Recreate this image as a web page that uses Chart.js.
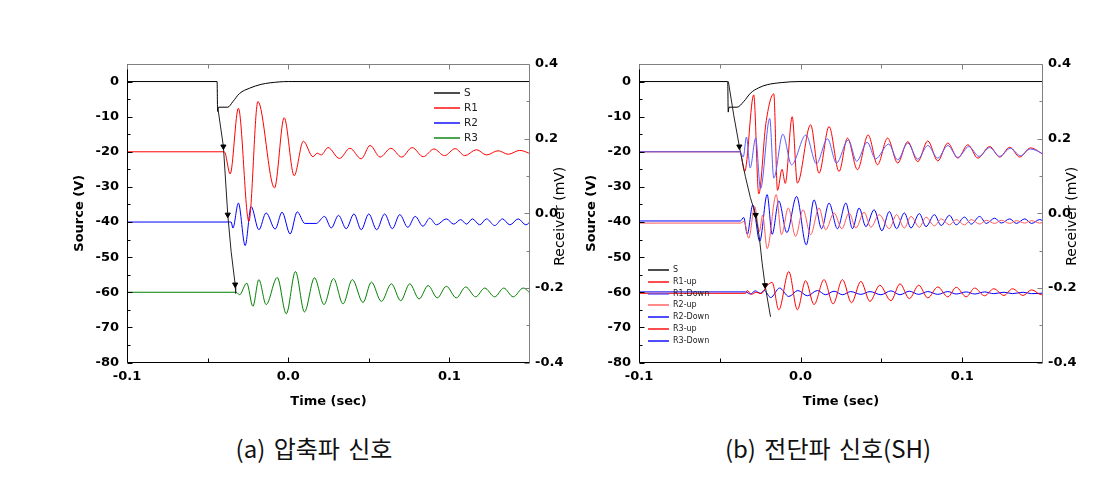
<!DOCTYPE html>
<html>
<head>
<meta charset="utf-8">
<script src="https://cdn.jsdelivr.net/npm/chart.js@4/dist/chart.umd.min.js"></script>
<style>
  body { margin: 0; background: #fff; }
  #wrap { position: relative; width: 1112px; height: 480px; overflow: hidden; }
  canvas { position: absolute; top: 0; }
  #chartA { left: 0; }
  #chartB { left: 512px; }
  .cap { position: absolute; top: 434px; font-family: 'Noto Sans CJK KR', sans-serif; font-weight: 400; font-size: 24px;
         line-height: 28px; color: #111; white-space: nowrap; word-spacing: 3px; transform: translateX(-50%); }
</style>
</head>
<body>
<div id="wrap">
  <canvas id="chartA" width="600" height="420"></canvas>
  <canvas id="chartB" width="600" height="420"></canvas>
  <div class="cap" style="left:314px">(a) 압축파 신호</div>
  <div class="cap" style="left:828px">(b) 전단파 신호(SH)</div>
</div>
<script>
// ticks
const timeTicks = [-0.1, 0, 0.1];
const timeMinor = [-0.05, 0.05];
const sourceTicks = [-80, -70, -60, -50, -40, -30, -20, -10, 0];
const sourceMinor = [-75, -65, -55, -45, -35, -25, -15, -5];
const receiverTicks = [-0.4, -0.2, 0, 0.2, 0.4];
const receiverMinor = [-0.3, -0.1, 0.1, 0.3];

// (a) P-wave: [time (sec), source/offset (V)]
const sA = [[-0.1, 0], [-0.0441, 0], [-0.0438, -8.5], [-0.0433, -7.3], [-0.0375, -7.3], [-0.0343, -5.7], [-0.0302, -3.4],
  [-0.0240, -1.9], [-0.0168, -0.8], [-0.0056, -0.1], [0.0, 0], [0.15, 0]];
const arrivalA = [[-0.0437, -7.3], [-0.0402, -18.5], [-0.0375, -37.9], [-0.0354, -48.4], [-0.0329, -57.8], [-0.0326, -60.3]];
const r1A = [[-0.1, -20], [-0.0396, -20], [-0.0360, -26.3], [-0.0309, -7.6], [-0.0244, -39.8], [-0.0188, -5.7], [-0.0085, -30.3],
  [-0.0025, -10.3], [0.0037, -26.8], [0.0094, -17.0], [0.0153, -21.4], [0.0180, -20.4], [0.0205, -20.9], [0.0247, -18.8],
  [0.0318, -21.9], [0.0383, -19.0], [0.0453, -22.0], [0.0508, -18.2], [0.0570, -21.5], [0.0637, -19.0], [0.0704, -21.5],
  [0.0769, -18.8], [0.0838, -21.4], [0.0904, -19.2], [0.0970, -21.1], [0.1036, -19.1], [0.1095, -21.1], [0.1168, -19.4],
  [0.1230, -20.9], [0.1302, -19.7], [0.1365, -20.7], [0.1437, -19.6], [0.151, -20.7]];
const r2A = [[-0.1, -40], [-0.0354, -40], [-0.0343, -41.7], [-0.0309, -34.6], [-0.0267, -46.7], [-0.0230, -35.6], [-0.0182, -42.2],
  [-0.0137, -37.4], [-0.0081, -42.0], [-0.0038, -37.2], [0.0012, -43.4], [0.0056, -37.1], [0.0103, -40.4], [0.0174, -40.4],
  [0.0225, -38.4], [0.0267, -41.7], [0.0312, -38.1], [0.0360, -41.9], [0.0408, -37.7], [0.0453, -42.2], [0.0500, -37.7],
  [0.0549, -42.2], [0.0598, -37.7], [0.0646, -41.9], [0.0692, -37.9], [0.0742, -41.5], [0.0788, -38.4], [0.0836, -41.2],
  [0.0878, -38.9], [0.0919, -40.8], [0.0981, -39.1], [0.1027, -40.6], [0.1070, -39.3], [0.1106, -40.6], [0.1143, -39.1],
  [0.1188, -40.8], [0.1230, -39.1], [0.1281, -41.0], [0.1329, -39.1], [0.1375, -40.8], [0.1427, -39.1], [0.1474, -40.8], [0.151, -39.5]];
const r3A = [[-0.1, -60], [-0.0323, -60], [-0.0302, -60.7], [-0.0257, -57.4], [-0.0219, -64.0], [-0.0182, -56.4], [-0.0137, -63.5],
  [-0.0068, -55.8], [-0.0012, -66.1], [0.0045, -54.1], [0.0101, -65.6], [0.0163, -55.9], [0.0222, -63.5], [0.0281, -56.1],
  [0.0340, -63.3], [0.0398, -56.4], [0.0464, -62.9], [0.0516, -57.1], [0.0578, -62.6], [0.0640, -57.6], [0.0698, -62.4],
  [0.0754, -57.6], [0.0812, -61.9], [0.0868, -58.1], [0.0925, -61.6], [0.0981, -58.3], [0.1043, -61.6], [0.1101, -58.5],
  [0.1163, -61.3], [0.1219, -58.8], [0.1281, -61.3], [0.1337, -58.8], [0.1396, -61.3], [0.1458, -58.8], [0.151, -60.7]];

// (b) S-wave (SH)
const sB = [[-0.1, 0], [-0.0451, 0], [-0.0448, -8.7], [-0.0443, -7.3], [-0.0393, -7.3], [-0.0352, -5.7], [-0.0310, -3.3],
  [-0.0260, -1.8], [-0.0207, -0.9], [-0.0120, -0.3], [-0.0010, 0], [0.15, 0]];
const arrivalB = [[-0.0447, 0], [-0.0414, -9.5], [-0.0379, -18.5], [-0.0342, -27], [-0.0311, -33], [-0.0278, -38],
  [-0.0255, -44.5], [-0.0238, -51.7], [-0.0220, -58.0], [-0.0186, -67.0]];
const r1upB = [[-0.1, -20], [-0.0375, -20], [-0.0346, -25.6], [-0.0290, -3.8], [-0.0259, -32], [-0.0215, -12], [-0.0166, -3.5],
  [-0.0143, -31], [-0.0115, -25], [-0.0095, -29], [-0.0052, -10], [-0.0020, -28.9], [0.0062, -12.3], [0.0114, -26.1],
  [0.0176, -12.8], [0.0238, -25.6], [0.0290, -16.1], [0.0352, -25.1], [0.0418, -15.2], [0.0476, -23.7], [0.0538, -16.1],
  [0.0601, -23.2], [0.0663, -17.1], [0.0725, -22.8], [0.0787, -16.9], [0.0849, -22.6], [0.0911, -17.5], [0.0973, -21.8],
  [0.1035, -18.0], [0.1097, -21.8], [0.1170, -18.5], [0.1232, -21.5], [0.1294, -18.7], [0.1356, -21.5], [0.1422, -18.9], [0.151, -21.0]];
const r1downB = [[-0.1, -20], [-0.0375, -20], [-0.0355, -21.5], [-0.0335, -15.8], [-0.0312, -24.6], [-0.0278, -16.1],
  [-0.0248, -30.5], [-0.0191, -10.5], [-0.0166, -27.5], [-0.0110, -15.0], [-0.0056, -23.7], [0.0033, -15.2], [0.0098, -23.4],
  [0.0166, -16.3], [0.0222, -23.2], [0.0295, -16.6], [0.0347, -22.7], [0.0412, -17.3], [0.0464, -22.0], [0.0545, -17.8],
  [0.0601, -22.3], [0.0663, -17.5], [0.0725, -22.1], [0.0787, -18.2], [0.0849, -21.8], [0.0911, -18.2], [0.0973, -21.6],
  [0.1041, -18.5], [0.1104, -21.3], [0.1170, -18.8], [0.1232, -21.3], [0.1298, -19.0], [0.1360, -21.1], [0.1422, -19.2], [0.151, -20.8]];
const r2upB = [[-0.1, -40.3], [-0.0373, -40.3], [-0.0350, -39.8], [-0.0321, -44.6], [-0.0284, -35.6], [-0.0255, -42.7],
  [-0.0235, -38], [-0.0207, -47.6], [-0.0151, -32.2], [-0.0118, -43.6], [-0.0076, -36.0], [-0.0031, -44.1], [0.0015, -36.5],
  [0.0062, -43.6], [0.0114, -36.0], [0.0155, -42.2], [0.0207, -37.4], [0.0255, -41.9], [0.0300, -37.4], [0.0342, -41.7],
  [0.0393, -37.2], [0.0435, -41.5], [0.0486, -37.9], [0.0549, -41.9], [0.0594, -37.9], [0.0642, -41.7], [0.0683, -38.4],
  [0.0735, -41.5], [0.0776, -38.6], [0.0828, -41.1], [0.0870, -39.1], [0.0921, -40.8], [0.0963, -39.3], [0.1014, -40.8],
  [0.1056, -39.3], [0.1108, -40.6], [0.1149, -39.5], [0.1201, -40.4], [0.1242, -39.5], [0.1294, -40.4], [0.1335, -39.6],
  [0.1387, -40.3], [0.1429, -39.6], [0.1480, -40.3], [0.151, -40]];
const r2downB = [[-0.1, -39.7], [-0.0373, -39.7], [-0.0352, -38.7], [-0.0330, -43.5], [-0.0296, -35.1], [-0.0253, -45.5],
  [-0.0207, -32.2], [-0.0176, -43.5], [-0.0135, -34.0], [-0.0085, -43.0], [-0.0025, -32.7], [0.0035, -46.5], [0.0083, -33.7],
  [0.0130, -41.9], [0.0176, -34.6], [0.0228, -41.9], [0.0280, -34.6], [0.0321, -41.9], [0.0362, -36.0], [0.0404, -41.3],
  [0.0455, -36.5], [0.0503, -42.5], [0.0549, -37.0], [0.0594, -41.9], [0.0642, -37.4], [0.0683, -41.7], [0.0735, -37.6],
  [0.0776, -41.3], [0.0828, -37.9], [0.0870, -41.0], [0.0921, -38.1], [0.0963, -40.8], [0.1014, -38.6], [0.1056, -40.6],
  [0.1108, -38.4], [0.1149, -40.4], [0.1201, -38.9], [0.1242, -40.3], [0.1294, -39.1], [0.1335, -40.4], [0.1387, -39.1],
  [0.1429, -40.4], [0.1480, -39.3], [0.151, -40]];
const r3upB = [[-0.1, -60.3], [-0.0340, -60.3], [-0.0330, -59.5], [-0.0305, -60.6], [-0.0275, -60], [-0.0245, -60.4],
  [-0.0207, -58.1], [-0.0176, -57.2], [-0.0135, -65.0], [-0.0073, -54.1], [-0.0020, -65.0], [0.0031, -56.7], [0.0083, -63.5],
  [0.0145, -56.4], [0.0201, -63.3], [0.0259, -56.4], [0.0315, -63.0], [0.0373, -56.9], [0.0429, -62.6], [0.0490, -58.0],
  [0.0559, -62.4], [0.0615, -57.6], [0.0673, -61.8], [0.0731, -58.0], [0.0787, -61.6], [0.0849, -58.5], [0.0911, -61.3],
  [0.0963, -58.6], [0.1025, -61.3], [0.1077, -58.8], [0.1139, -61.0], [0.1195, -59.0], [0.1259, -60.9], [0.1311, -59.0],
  [0.1377, -60.9], [0.1429, -59.3], [0.1491, -60.7], [0.151, -60.5]];
const r3downB = [[-0.1, -59.9], [-0.0340, -59.9], [-0.0310, -60.5], [-0.0280, -59.6], [-0.0250, -60.3], [-0.0225, -59.5],
  [-0.0185, -61.5], [-0.0130, -58.8], [-0.0073, -61.2], [-0.0017, -59.5], [0.0042, -61.0], [0.0104, -59.5], [0.0155, -60.7],
  [0.0207, -59.7], [0.0260, -60.7], [0.0310, -59.8], [0.0373, -60.6], [0.0429, -59.8], [0.0497, -60.7], [0.0559, -59.6],
  [0.0615, -60.7], [0.0673, -59.7], [0.0731, -60.6], [0.0787, -59.8], [0.0849, -60.6], [0.0911, -59.8], [0.0963, -60.5],
  [0.1025, -59.9], [0.1077, -60.5], [0.1139, -59.9], [0.1195, -60.4], [0.1259, -60.0], [0.1311, -60.4], [0.1377, -60.0],
  [0.1429, -60.4], [0.151, -60.2]];

const pts = arr => arr.map(p => ({ x: p[0], y: p[1] }));

function wave(label, data, color, order) {
  return { label: label, data: pts(data), borderColor: color, borderWidth: 1, pointRadius: 0, order: order || 0,
           cubicInterpolationMode: 'monotone', fill: false };
}
function arrival(data, marks) {
  return { label: '', data: pts(data), borderColor: '#222', borderWidth: 1, tension: 0, fill: false,
           pointRadius: data.map((p, i) => marks.includes(i) ? 3 : 0), pointStyle: 'triangle', rotation: 180,
           pointBackgroundColor: '#000', pointBorderColor: '#000', pointBorderWidth: 1 };
}

const tickFont = { family: 'DejaVu Sans', size: 13, weight: 'bold' };

function makeScales() {
  return {
    x: {
      type: 'linear', min: -0.1, max: 0.15,
      afterBuildTicks: s => { s.ticks = timeTicks.map(v => ({ value: v })); },
      afterFit: s => { s.height = 50; },
      grid: { display: false, drawTicks: false }, border: { display: false },
      ticks: { padding: 6, color: '#000', font: tickFont, autoSkip: false, maxRotation: 0, callback: v => v.toFixed(1) },
      title: { display: true, text: 'Time (sec)', color: '#000', font: tickFont, padding: { top: 0, bottom: 3 } }
    },
    y: {
      type: 'linear', position: 'left', min: -80, max: 5,
      afterBuildTicks: s => { s.ticks = sourceTicks.map(v => ({ value: v })); },
      afterFit: s => { s.width = 57; },
      grid: { display: false, drawTicks: false }, border: { display: false },
      ticks: { padding: 8, color: '#000', font: tickFont, autoSkip: false, callback: v => String(v) },
      title: { display: true, text: 'Source (V)', color: '#000', font: tickFont, padding: { top: 2, bottom: 0 } }
    },
    y2: {
      type: 'linear', position: 'right', min: -0.4, max: 0.4,
      afterBuildTicks: s => { s.ticks = receiverTicks.map(v => ({ value: v })); },
      afterFit: s => { s.width = 50; },
      grid: { display: false, drawTicks: false }, border: { display: false },
      ticks: { padding: 5, color: '#000', font: tickFont, autoSkip: false, callback: v => v.toFixed(1) }
    }
  };
}

// frame, inward ticks, right title and legend
const framePlugin = {
  id: 'frame',
  afterDatasetsDraw(chart, args, opts) {
    const { ctx, chartArea: a, scales } = chart;
    const L = Math.round(a.left) + 0.5, R = Math.round(a.right) - 0.5;
    const T = Math.round(a.top) + 0.5, B = Math.round(a.bottom) - 0.5;
    const line = (x1, y1, x2, y2, c) => { ctx.strokeStyle = c; ctx.beginPath(); ctx.moveTo(x1, y1); ctx.lineTo(x2, y2); ctx.stroke(); };
    ctx.save();
    ctx.lineWidth = 1;
    line(L, T, R, T, '#808080');
    line(R, T, R, B, '#808080');
    line(L, T, L, B, '#000');
    line(L, B, R, B, '#000');

    timeTicks.concat(timeMinor).forEach(v => {
      const x = Math.round(scales.x.getPixelForValue(v)) + 0.5;
      const n = timeTicks.includes(v) ? 5 : 4;
      line(x, B, x, B - n, '#000');
      line(x, T, x, T + n, '#808080');
    });
    sourceTicks.concat(sourceMinor).forEach(v => {
      const y = Math.round(scales.y.getPixelForValue(v)) + 0.5;
      line(L, y, L + (sourceTicks.includes(v) ? 5 : 3), y, '#000');
    });
    receiverTicks.concat(receiverMinor).forEach(v => {
      const y = Math.round(scales.y2.getPixelForValue(v)) + 0.5;
      line(R, y, R - (receiverTicks.includes(v) ? 5 : 3), y, '#808080');
    });

    // right axis title reads bottom to top
    ctx.save();
    ctx.translate(opts.titleX, (a.top + a.bottom) / 2 + 3);
    ctx.rotate(-Math.PI / 2);
    ctx.fillStyle = '#000';
    ctx.font = '14px "DejaVu Sans"';
    ctx.textAlign = 'center';
    ctx.textBaseline = 'middle';
    ctx.fillText('Receiver (mV)', 0, 0);
    ctx.restore();

    // legend
    const lg = opts.legend;
    ctx.font = lg.size + 'px "DejaVu Sans"';
    ctx.textAlign = 'left';
    ctx.textBaseline = 'middle';
    ctx.lineWidth = 1.4;
    let row = 0;
    chart.data.datasets.forEach(ds => {
      if (!ds.label) return;
      const y = Math.round(lg.y + row * lg.dy);
      line(lg.x, y, lg.x + lg.len, y, ds.borderColor);
      ctx.fillStyle = '#222';
      ctx.fillText(ds.label, lg.x + lg.len + 4, y);
      row++;
    });
    ctx.restore();
  }
};

function makeOptions(rightPad, legend) {
  return {
    responsive: false, animation: false, devicePixelRatio: 1,
    layout: { padding: { left: 70, right: rightPad, top: 64, bottom: 7.5 } },
    plugins: { legend: { display: false }, tooltip: { enabled: false },
               frame: { titleX: 560, legend: legend } },
    scales: makeScales()
  };
}

// 1. (a) 압축파 신호
new Chart(document.getElementById('chartA'), {
  type: 'line',
  data: {
    datasets: [
      arrival(arrivalA, [1, 2, 4]),
      wave('S', sA, '#000000'),
      wave('R1', r1A, '#ff0000'),
      wave('R2', r2A, '#0000ff'),
      wave('R3', r3A, '#008000')
    ]
  },
  options: makeOptions(20, { x: 434, y: 93, dy: 15, len: 26, size: 10.5 }),
  plugins: [framePlugin]
});

// 2. (b) 전단파 신호(SH)
new Chart(document.getElementById('chartB'), {
  type: 'line',
  data: {
    datasets: [
      arrival(arrivalB, [2, 5, 8]),
      wave('S', sB, '#000000'),
      wave('R1-up', r1upB, '#ff0000'),
      wave('R1-Down', r1downB, '#5c5cff', -1),
      wave('R2-up', r2upB, '#ff5a5a'),
      wave('R2-Down', r2downB, '#0000ff'),
      wave('R3-up', r3upB, '#ff0000'),
      wave('R3-Down', r3downB, '#0000ff')
    ]
  },
  options: makeOptions(19, { x: 136, y: 270, dy: 11.8, len: 21, size: 8 }),
  plugins: [framePlugin]
});
</script>
</body>
</html>
